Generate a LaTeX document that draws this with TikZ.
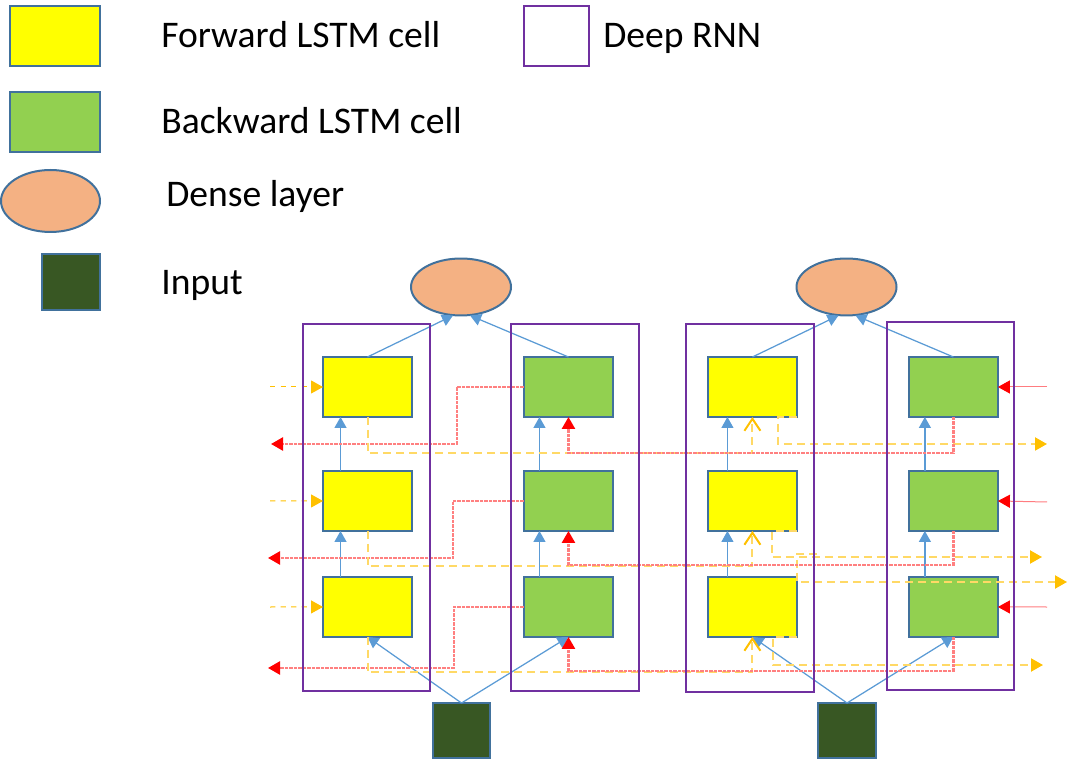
\documentclass[tikz,border=0pt]{standalone}
\usepackage{fontspec}
\setmainfont{Carlito}
\usepackage{xcolor}
\usepackage{tikz}
\usetikzlibrary{positioning, arrows.meta, shapes.geometric}

\definecolor{fwdyellow}{HTML}{FFFF00}
\definecolor{bwdgreen}{HTML}{92D050}
\definecolor{cellborder}{HTML}{41719C}
\definecolor{densefill}{HTML}{F4B183}
\definecolor{inputfill}{HTML}{385723}
\definecolor{rnnpurple}{HTML}{7030A0}
\definecolor{linkblue}{HTML}{5B9BD5}
\definecolor{stateorange}{HTML}{FFC000}
\definecolor{statelight}{HTML}{FFD966}
\definecolor{salmon}{HTML}{FF7C80}

\begin{document}
\begin{tikzpicture}[
				x=0.02cm, y=-0.02cm,
				fwdcell/.style={rectangle, draw=cellborder, fill=fwdyellow, line width=0.04cm, minimum width=1.78cm, minimum height=1.2cm, inner sep=0pt, outer sep=0pt},
				bwdcell/.style={fwdcell, fill=bwdgreen},
				densenode/.style={ellipse, draw=cellborder, fill=densefill, line width=0.04cm, minimum width=2cm, minimum height=1.14cm, inner sep=0pt, outer sep=0pt},
				inputnode/.style={rectangle, draw=cellborder, fill=inputfill, line width=0.04cm, minimum width=1.15cm, minimum height=1.1cm, inner sep=0pt, outer sep=0pt},
				rnnbox/.style={rectangle, draw=rnnpurple, line width=0.05cm, minimum width=2.54cm, minimum height=7.34cm, inner sep=0pt, outer sep=0pt},
				legendtext/.style={anchor=base west, inner sep=0pt, font=\fontsize{21.4}{25}\selectfont},
				bluelink/.style={draw=linkblue, line width=0.025cm, -{Triangle[length=0.22cm, width=0.24cm]}},
				fwdin/.style={draw=stateorange, dashed, line width=0.02cm, -{Triangle[length=0.24cm, width=0.26cm, color=stateorange]}},
				bwdin/.style={draw=salmon, line width=0.02cm, -{Triangle[length=0.24cm, width=0.26cm, color=red]}},
				fwdout/.style={draw=statelight, line width=0.04cm, dash pattern=on 0.16cm off 0.1cm, -{Triangle[length=0.24cm, width=0.26cm, color=stateorange]}},
				fwdstate/.style={fwdout, -{Straight Barb[length=0.24cm, width=0.32cm, color=stateorange]}},
				bwdout/.style={draw=red!50, line width=0.05cm, dash pattern=on 0.07cm off 0.02cm, -{Triangle[length=0.24cm, width=0.26cm, color=red]}},
				node distance = 2.24cm,
				]
				\useasboundingbox (0,0) rectangle (1081,759);
				
				%Legend
				\node[fwdcell, minimum width=1.8cm] (legFwd) at (55,36) {};
				\node[legendtext] (txtFwd) at (161,48) {Forward LSTM cell};
				\node[bwdcell, minimum width=1.8cm] (legBwd) at (55,122) {};
				\node[legendtext] (txtBwd) at (161,134) {Backward LSTM cell};
				\node[densenode, minimum width=1.98cm, minimum height=1.24cm] (legDense) at (50.5,201) {};
				\node[legendtext] (txtDense) at (166,207) {Dense layer};
				\node[inputnode, minimum width=1.16cm, minimum height=1.12cm] (legInput) at (71,282) {};
				\node[legendtext] (txtInput) at (161,295) {Input};
				\node[rnnbox, minimum width=1.3cm, minimum height=1.2cm] (legRnn) at (556.5,36) {};
				\node[legendtext] (txtRnn) at (603,48) {Deep RNN};
				
				%Nodes
				\node[fwdcell] (fw1top) at (367.5,387) {};
				\node[fwdcell, below=1.08cm of fw1top] (fw1mid) {};
				\node[fwdcell, below=0.92cm of fw1mid] (fw1bot) {};
				\node[bwdcell, right=of fw1top] (bw1top) {};
				\node[bwdcell, below=1.08cm of bw1top] (bw1mid) {};
				\node[bwdcell, below=0.92cm of bw1mid] (bw1bot) {};
				\node[fwdcell, right=1.9cm of bw1top] (fw2top) {};
				\node[fwdcell, below=1.08cm of fw2top] (fw2mid) {};
				\node[fwdcell, below=0.92cm of fw2mid] (fw2bot) {};
				\node[bwdcell, right=of fw2top] (bw2top) {};
				\node[bwdcell, below=1.08cm of bw2top] (bw2mid) {};
				\node[bwdcell, below=0.92cm of bw2mid] (bw2bot) {};
				
				\node[densenode] (dense1) at (461,287) {};
				\node[densenode] (dense2) at (846.5,287) {};
				\node[inputnode] (in1) at (461.5,730.5) {};
				\node[inputnode] (in2) at (847,730.5) {};
				
				\coordinate (fin1) at (270,387);
				\coordinate (fin2) at (270,501);
				\coordinate (fin3) at (270,607);
				\coordinate (bin1) at (1047,387);
				\coordinate (bin2) at (1047,502);
				\coordinate (bin3) at (1047,607);
				\coordinate (bout1) at (271,444);
				\coordinate (bout2) at (268,558);
				\coordinate (bout3) at (268,668);
				\coordinate (fout1) at (1047,444);
				\coordinate (fout2) at (1042,557);
				\coordinate (fout3) at (1043,665);
				\coordinate (stray) at (817,554);
				\coordinate (fout4) at (1067,582);
				
				%Lines
				\draw[bluelink] (in1.north) -- (fw1bot.south);
				\draw[bluelink] (in1.north) -- (bw1bot.south);
				\draw[bluelink] (in2.north) -- (fw2bot.south);
				\draw[bluelink] (in2.north) -- (bw2bot.south);
				
				\draw[bluelink] ([xshift=-0.54cm]fw1bot.north) -- ([xshift=-0.54cm]fw1mid.south);
				\draw[bluelink] ([xshift=-0.54cm]fw1mid.north) -- ([xshift=-0.54cm]fw1top.south);
				\draw[bluelink] ([xshift=-0.58cm]bw1bot.north) -- ([xshift=-0.58cm]bw1mid.south);
				\draw[bluelink] ([xshift=-0.58cm]bw1mid.north) -- ([xshift=-0.58cm]bw1top.south);
				\draw[bluelink] ([xshift=-0.5cm]fw2bot.north) -- ([xshift=-0.5cm]fw2mid.south);
				\draw[bluelink] ([xshift=-0.5cm]fw2mid.north) -- ([xshift=-0.5cm]fw2top.south);
				\draw[bluelink] ([xshift=-0.57cm]bw2bot.north) -- ([xshift=-0.57cm]bw2mid.south);
				\draw[bluelink] ([xshift=-0.57cm]bw2mid.north) -- ([xshift=-0.57cm]bw2top.south);
				
				\draw[bluelink] (fw1top.north) -- ([xshift=-0.16cm]dense1.south);
				\draw[bluelink] (bw1top.north) -- ([xshift=0.18cm]dense1.south);
				\draw[bluelink] (fw2top.north) -- ([xshift=-0.16cm]dense2.south);
				\draw[bluelink] (bw2top.north) -- ([xshift=0.18cm]dense2.south);
				
				\draw[fwdin] (fin1) -- (fw1top.west);
				\draw[fwdin] (fin2) -- (fw1mid.west);
				\draw[fwdin] (fin3) -- (fw1bot.west);
				\draw[bwdin] (bin1) -- (bw2top.east);
				\draw[bwdin] (bin2) -- (bw2mid.east);
				\draw[bwdin] (bin3) -- (bw2bot.east);
				
				\draw[bwdout] (bw1top.west) -- ++(-67,0) |- (bout1);
				\draw[bwdout] (bw1mid.west) -- ++(-71,0) |- (bout2);
				\draw[bwdout] (bw1bot.west) -- ++(-70,0) |- (bout3);
				
				\draw[fwdout] (fw2top.south east) -- ++(-19,0) |- (fout1);
				\draw[fwdout] (fw2mid.south east) -- ++(-25,0) |- (fout2);
				\draw[fwdout] (fw2bot.south east) -- ++(-24,0) |- (fout3);
				\draw[fwdout] (stray) -- ++(-20,0) |- (fout4);
				
				\draw[fwdstate] (fw1top.south) -- ++(0,36) -| (fw2top.south);
				\draw[fwdstate] (fw1mid.south) -- ++(0,35) -| (fw2mid.south);
				\draw[fwdstate] (fw1bot.south) -- ++(0,35) -| (fw2bot.south);
				\draw[bwdout] (bw2top.south) -- ++(0,36) -| (bw1top.south);
				\draw[bwdout] (bw2mid.south) -- ++(0,34) -| (bw1mid.south);
				\draw[bwdout] (bw2bot.south) -- ++(0,34) -| (bw1bot.south);
				
				%Boxes
				\node[rnnbox] (rnn1) at (366.5,507.5) {};
				\node[rnnbox, minimum width=2.56cm] (rnn2) at (575,507.5) {};
				\node[rnnbox, minimum width=2.56cm, minimum height=7.36cm] (rnn3) at (750,508) {};
				\node[rnnbox, minimum height=7.36cm] (rnn4) at (950.5,506) {};
				
			\end{tikzpicture}
\end{document}
